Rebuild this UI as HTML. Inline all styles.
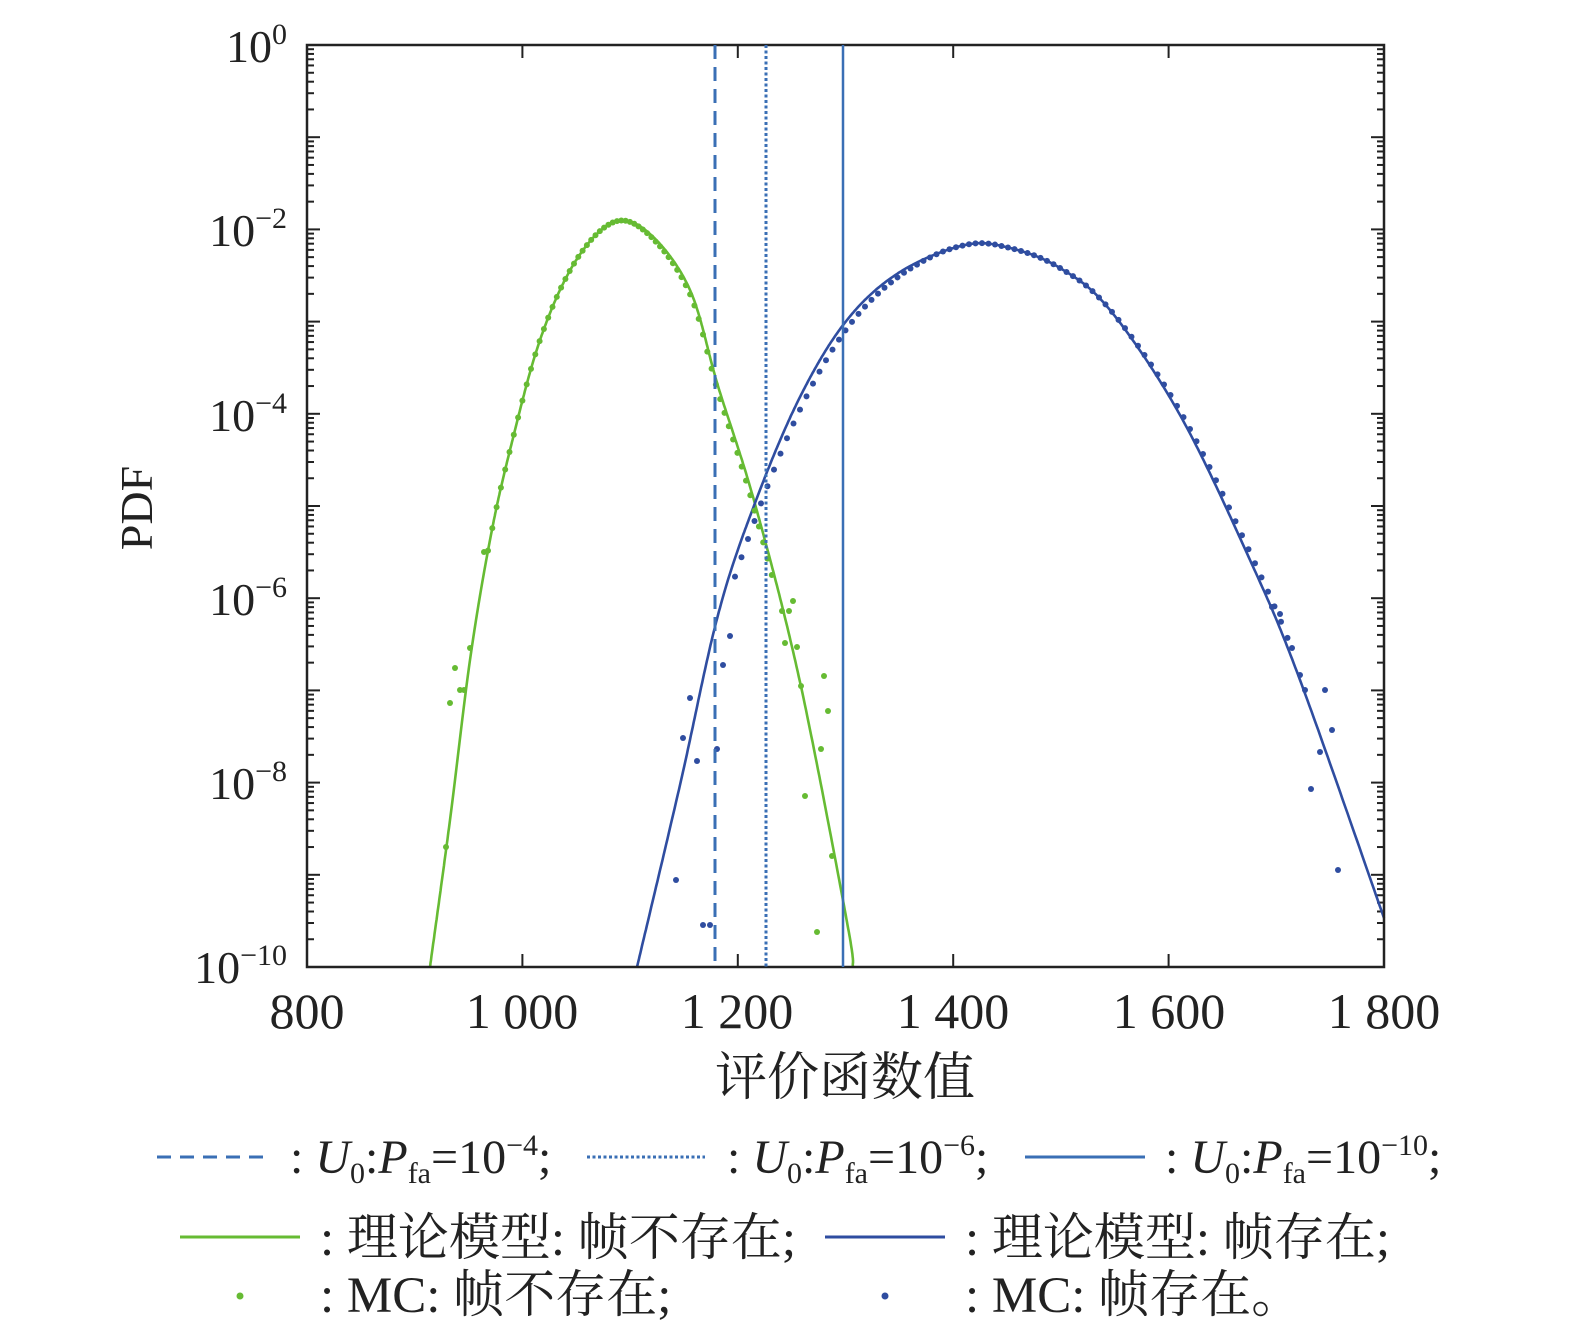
<!DOCTYPE html>
<html><head><meta charset="utf-8"><style>
body{margin:0;background:#fff}
svg{display:block}
text{font-family:"Liberation Serif","Noto Serif CJK SC",serif;fill:#222}
</style></head><body>
<svg id="s" width="1575" height="1332" viewBox="0 0 1575 1332" xmlns="http://www.w3.org/2000/svg">
<g id="ticks" stroke="#222" stroke-width="2"></g>
<g id="curves"></g>
<rect x="307" y="45" width="1077" height="922" fill="none" stroke="#222" stroke-width="2.5"/>
<line x1="715" y1="45" x2="715" y2="967" stroke="#3a6fb5" stroke-width="3" stroke-dasharray="14,8"/>
<line x1="766" y1="45" x2="766" y2="967" stroke="#3a6fb5" stroke-width="3" stroke-dasharray="3,2.5"/>
<line x1="843" y1="45" x2="843" y2="967" stroke="#3a6fb5" stroke-width="2.5"/>
<g font-size="50" text-anchor="middle">
<text x="307" y="1028">800</text>
<text x="522" y="1028">1 000</text>
<text x="737" y="1028">1 200</text>
<text x="953" y="1028">1 400</text>
<text x="1169" y="1028">1 600</text>
<text x="1384" y="1028">1 800</text>
</g>
<g font-size="46" text-anchor="end">
<text x="287" y="62">10<tspan font-size="30" dy="-18">0</tspan></text>
<text x="287" y="246">10<tspan font-size="30" dy="-18">−2</tspan></text>
<text x="287" y="431">10<tspan font-size="30" dy="-18">−4</tspan></text>
<text x="287" y="615">10<tspan font-size="30" dy="-18">−6</tspan></text>
<text x="287" y="799">10<tspan font-size="30" dy="-18">−8</tspan></text>
<text x="287" y="983">10<tspan font-size="30" dy="-18">−10</tspan></text>
</g>
<text x="152" y="508" font-size="46" text-anchor="middle" transform="rotate(-90 152 508)">PDF</text>
<text x="845" y="1095" font-size="52" text-anchor="middle">评价函数值</text>
<line x1="157" y1="1157" x2="272" y2="1157" stroke="#3a6fb5" stroke-width="3" stroke-dasharray="14,9"/>
<line x1="587" y1="1157" x2="705" y2="1157" stroke="#3a6fb5" stroke-width="3" stroke-dasharray="3,2.5"/>
<line x1="1025" y1="1157" x2="1145" y2="1157" stroke="#3a6fb5" stroke-width="3"/>
<g font-size="48">
<text x="290" y="1173">: <tspan font-style="italic">U</tspan><tspan font-size="30" dy="10">0</tspan><tspan dy="-10">:</tspan><tspan font-style="italic">P</tspan><tspan font-size="30" dy="10">fa</tspan><tspan dy="-10">=10</tspan><tspan font-size="30" dy="-18">−4</tspan><tspan dy="18">;</tspan></text>
<text x="727" y="1173">: <tspan font-style="italic">U</tspan><tspan font-size="30" dy="10">0</tspan><tspan dy="-10">:</tspan><tspan font-style="italic">P</tspan><tspan font-size="30" dy="10">fa</tspan><tspan dy="-10">=10</tspan><tspan font-size="30" dy="-18">−6</tspan><tspan dy="18">;</tspan></text>
<text x="1165" y="1173">: <tspan font-style="italic">U</tspan><tspan font-size="30" dy="10">0</tspan><tspan dy="-10">:</tspan><tspan font-style="italic">P</tspan><tspan font-size="30" dy="10">fa</tspan><tspan dy="-10">=10</tspan><tspan font-size="30" dy="-18">−10</tspan><tspan dy="18">;</tspan></text>
</g>
<g font-size="51">
<text x="320" y="1255">: 理论模型: 帧不存在;</text>
<text x="965" y="1255">: 理论模型: 帧存在;</text>
<text x="320" y="1312">: MC: 帧不存在;</text>
<text x="965" y="1312">: MC: 帧存在。</text>
</g>
<line x1="180" y1="1237" x2="300" y2="1237" stroke="#66bb33" stroke-width="3"/>
<line x1="825" y1="1237" x2="945" y2="1237" stroke="#2f4da0" stroke-width="3"/>
<circle cx="240" cy="1296" r="3.5" fill="#66bb33"/>
<circle cx="885" cy="1296" r="3.5" fill="#2f4da0"/>
</svg>
<script>
const NS="http://www.w3.org/2000/svg";
const tk=document.getElementById('ticks');
function ln(x1,y1,x2,y2){const l=document.createElementNS(NS,'line');l.setAttribute('x1',x1);l.setAttribute('y1',y1);l.setAttribute('x2',x2);l.setAttribute('y2',y2);tk.appendChild(l);}
const dec=92.2;
for(let d=0;d<10;d++){const y0=45+d*dec;
 for(let k=2;k<=9;k++){const y=y0+dec-Math.log10(k)*dec;ln(307,y,314,y);ln(1384,y,1377,y);}
}
for(let d=0;d<=10;d++){const y=45+d*dec;ln(307,y,320,y);ln(1384,y,1371,y);}
for(let i=0;i<=5;i++){const x=307+i*215.4;ln(x,967,x,954);ln(x,45,x,58);}
function cr(p,steps){const out=[];for(let i=0;i<p.length-1;i++){const p0=p[Math.max(0,i-1)],p1=p[i],p2=p[i+1],p3=p[Math.min(p.length-1,i+2)];
 for(let s=0;s<steps;s++){const t=s/steps,t2=t*t,t3=t2*t;
 const f=(a,b,c,d)=>0.5*((2*b)+(-a+c)*t+(2*a-5*b+4*c-d)*t2+(-a+3*b-3*c+d)*t3);
 out.push([f(p0[0],p1[0],p2[0],p3[0]),f(p0[1],p1[1],p2[1],p3[1])]);}}
 out.push(p[p.length-1]);return out;}
const G=[[430,967],[450,820],[470,660],[490,540],[510,450],[540,340],[575,262],[614,222],[650,234],[690,290],[718,386],[755,504],[800,682],[847,922],[853,967]];
const B=[[637,967],[680,785],[718,615],[755,503],[800,397],[847,320],[900,272],[965,245],[1010,248],[1060,268],[1110,310],[1180,415],[1250,560],[1300,680],[1384,918]];
const cg=document.getElementById('curves');
function path(pts,col){const p=document.createElementNS(NS,'path');p.setAttribute('d','M'+pts.map(q=>q[0].toFixed(1)+','+q[1].toFixed(1)).join('L'));p.setAttribute('fill','none');p.setAttribute('stroke',col);p.setAttribute('stroke-width','2.6');cg.appendChild(p);}
function dot(x,y,col){const c=document.createElementNS(NS,'circle');c.setAttribute('cx',x);c.setAttribute('cy',y);c.setAttribute('r','3');c.setAttribute('fill',col);cg.appendChild(c);}
const gp=cr(G,40),bp=cr(B,40);
path(gp,'#66bb33');path(bp,'#2f4da0');
function yAt(pts,x){for(let i=0;i<pts.length-1;i++){if(pts[i][0]<=x&&pts[i+1][0]>=x){const t=(x-pts[i][0])/(pts[i+1][0]-pts[i][0]||1);return pts[i][1]+t*(pts[i+1][1]-pts[i][1]);}}return null;}
for(let x=488;x<=775;x+=4.3){let y=yAt(gp,x);if(y==null)continue;if(x>620)y+=(x-620)*0.06;dot(x,y,'#66bb33');}
for(let x=735;x<=1290;x+=6.5){let y=yAt(bp,x);if(y==null)continue;if(x<940)y+=(940-x)*0.09;else if(x>1100)y-=(x-1100)*0.05;dot(x,y,'#2f4da0');}
[[446,847],[450,703],[455,668],[460,690],[464,690],[470,648],[484,552],[793,601],[789,611],[782,611],[785,643],[797,647],[801,686],[824,676],[828,711],[821,749],[805,796],[832,856],[817,932]].forEach(q=>dot(q[0],q[1],'#66bb33'));
[[690,698],[683,738],[697,761],[717,749],[676,880],[703,925],[710,925],[723,665],[730,636],[1300,675],[1305,690],[1325,690],[1332,730],[1320,752],[1311,789],[1338,870],[1292,648],[1280,614],[1272,607]].forEach(q=>dot(q[0],q[1],'#2f4da0'));
</script>
</body></html>
